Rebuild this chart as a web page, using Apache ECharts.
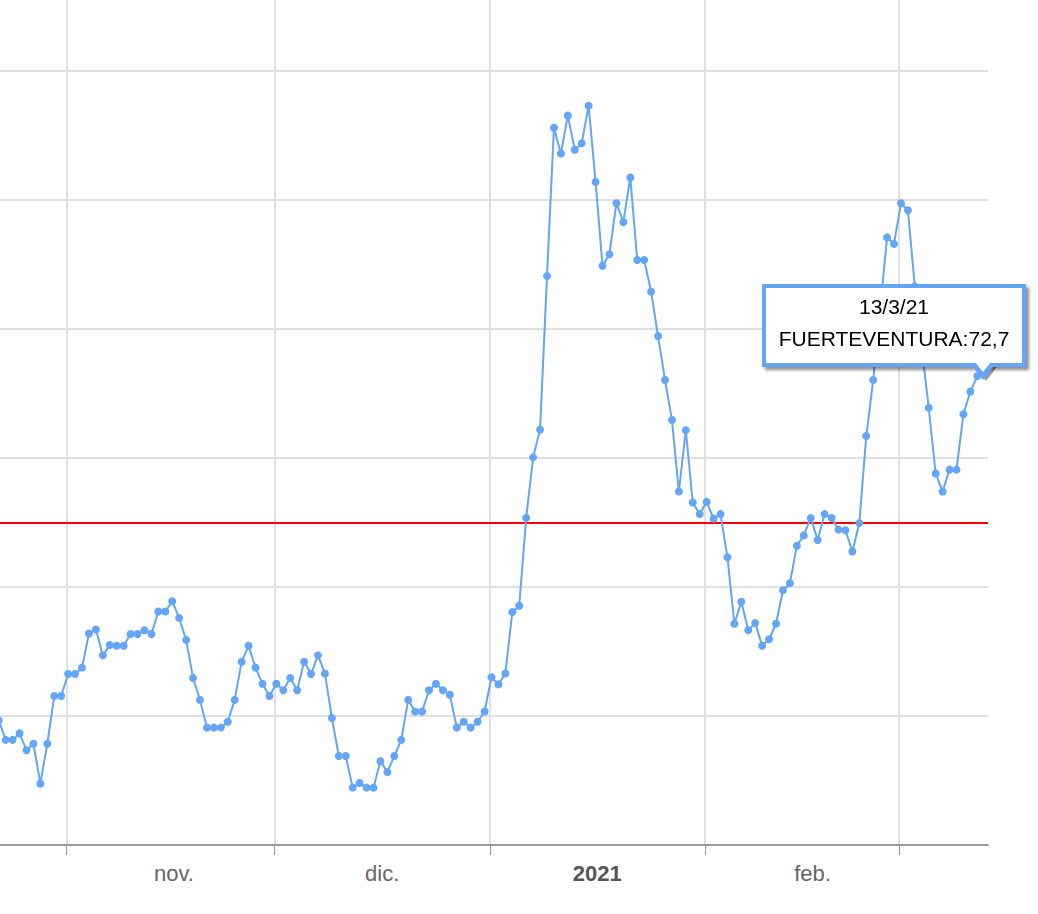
<!DOCTYPE html>
<html>
<head>
<meta charset="utf-8">
<script src="https://cdn.jsdelivr.net/npm/echarts@6/dist/echarts.min.js"></script>
<style>
html,body{margin:0;padding:0;background:#fff;overflow:hidden;width:1038px;height:914px;position:relative;}
#chart{position:absolute;left:-3px;top:-58px;width:1041px;height:972px;}
</style>
</head>
<body>
<div id="chart"></div>
<script>
// ---------------- data ----------------
const seriesName = 'FUERTEVENTURA';
const firstDate = '2020-10-23';   // one value per day from this date
const values = [
  19.3, 16.3, 16.3, 17.3, 14.7, 15.7, 9.5, 15.7, 23.1,
  23.1, 26.5, 26.5, 27.5, 32.8, 33.4, 29.4, 31.0, 30.9, 30.9, 32.7,
  32.7, 33.3, 32.7, 36.2, 36.2, 37.8, 35.2, 31.8, 25.9, 22.5,
  18.2, 18.2, 18.2, 19.1, 22.5, 28.4, 30.9, 27.5, 25.0, 23.1,
  25.0, 24.0, 25.9, 24.0, 28.4, 26.5, 29.4, 26.6, 19.7, 13.8,
  13.8, 8.9, 9.6, 8.9, 8.9, 13.0, 11.3, 13.8, 16.3, 22.5,
  20.7, 20.7, 24.0, 25.0, 24.0, 23.3, 18.2, 19.1, 18.2, 19.1,
  20.7, 26.0, 24.9, 26.6, 36.1, 37.1, 50.7, 60.1, 64.4, 88.2,
  111.2, 107.2, 113.1, 107.8, 108.8, 114.6, 102.8, 89.8, 91.6, 99.5,
  96.6, 103.5, 90.7, 90.7, 85.8, 78.9, 72.1, 65.9, 54.8, 64.3,
  53.1, 51.3, 53.2, 50.6, 51.3, 44.6, 34.3, 37.7, 33.3, 34.4,
  30.9, 31.9, 34.3, 39.5, 40.6, 46.4, 48.0, 50.7, 47.3, 51.3,
  50.7, 48.9, 48.8, 45.5, 49.9, 63.4, 72.1, 83.2, 94.2, 93.2,
  99.5, 98.4, 86.6, 77.0, 67.8, 57.6, 54.8, 58.2, 58.2, 66.8,
  70.3, 72.7
];
const thresholdValue = 50;
const monthStarts = ['2020-11-01', '2020-12-01', '2021-01-01', '2021-02-01', '2021-03-01'];
const monthLabels = ['nov.', 'dic.', '2021', 'feb.'];
const boldLabels = ['2021'];
const axisStart = '2020-10-22';
const axisEndDate = '2021-03-13';
const yMin = 0, yMax = 140, yInterval = 20;

// ---------------- build ----------------
const DAY = 86400000;
const POINT_SHIFT = -18 * 3600000;   // plotting offset of the daily points
const AXIS_END_EXTRA = 19 * 3600000;
const t0 = Date.parse(firstDate + 'T00:00:00Z');
const dates = values.map((v, i) => new Date(t0 + i * DAY));
const points = values.map((v, i) => [dates[i].getTime() + POINT_SHIFT, v]);
const tickValues = monthStarts.map(d => Date.parse(d + 'T00:00:00Z'));
const labelValues = monthLabels.map((l, i) => tickValues[i] + 15.5 * DAY);
const xMin = Date.parse(axisStart + 'T00:00:00Z');
const xMax = Date.parse(axisEndDate + 'T00:00:00Z') + AXIS_END_EXTRA;

function fmtDate(d) {
  return d.getUTCDate() + '/' + (d.getUTCMonth() + 1) + '/' + String(d.getUTCFullYear()).slice(2);
}
function fmtNum(v) { return v.toFixed(1).replace('.', ','); }

const BLUE = '#63a5f7';
const FONT = "'Liberation Sans', Arial, sans-serif";

const chart = echarts.init(document.getElementById('chart'), null, { renderer: 'svg' });
chart.setOption({
  animation: false,
  backgroundColor: '#ffffff',
  grid: { left: 0, right: 50, top: 0, bottom: 69, containLabel: false },
  xAxis: {
    type: 'value',
    min: xMin, max: xMax,
    axisLine: { show: true, lineStyle: { color: '#9a9a9a', width: 2 } },
    axisTick: { show: true, customValues: tickValues, length: 10, lineStyle: { color: '#9a9a9a', width: 1 } },
    splitLine: { show: true, lineStyle: { color: '#e0e0e0', width: 2 } },
    axisLabel: {
      show: true,
      customValues: labelValues,
      margin: 17,
      formatter: function (v) {
        let best = 0, bd = Infinity;
        labelValues.forEach((lv, i) => { const d = Math.abs(lv - v); if (d < bd) { bd = d; best = i; } });
        const lab = monthLabels[best];
        return boldLabels.indexOf(lab) >= 0 ? '{b|' + lab + '}' : '{n|' + lab + '}';
      },
      rich: {
        n: { fontFamily: FONT, fontSize: 22, color: '#666666' },
        b: { fontFamily: FONT, fontSize: 22, fontWeight: 'bold', color: '#555555' }
      }
    }
  },
  yAxis: {
    type: 'value',
    min: yMin, max: yMax, interval: yInterval,
    axisLine: { show: false },
    axisTick: { show: false },
    axisLabel: { show: false },
    splitLine: { show: true, lineStyle: { color: '#e0e0e0', width: 2 } }
  },
  tooltip: {
    trigger: 'item',
    triggerOn: 'none',
    alwaysShowContent: true,
    showDelay: 0,
    hideDelay: 0,
    transitionDuration: 0,
    position: [765, 342],
    backgroundColor: '#ffffff',
    borderColor: BLUE,
    borderWidth: 4,
    borderRadius: 0,
    padding: 0,
    extraCssText: 'box-shadow: 3px 3px 3px rgba(0,0,0,0.45); overflow: visible;',
    formatter: function (p) {
      const d = dates[p.dataIndex];
      return '<div style="position:relative;width:256px;height:75px;box-sizing:border-box;padding-top:3px;' +
        'text-align:center;font-family:' + FONT.replace(/'/g, '') + ';font-size:21px;line-height:32px;color:#000;">' +
        fmtDate(d) + '<br>' + p.seriesName + ':' + fmtNum(p.value[1]) +
        '<div style="position:absolute;left:209px;top:79px;width:0;height:0;border-left:11px solid transparent;border-right:11px solid transparent;border-top:14px solid rgba(0,0,0,0.4);"></div>' +
        '<div style="position:absolute;left:204px;top:75px;width:0;height:0;border-left:13px solid transparent;border-right:13px solid transparent;border-top:17px solid ' + BLUE + ';"></div>' +
        '<div style="position:absolute;left:209px;top:74px;width:0;height:0;border-left:8px solid transparent;border-right:8px solid transparent;border-top:10px solid #fff;"></div>' +
        '</div>';
    }
  },
  series: [
    {
      name: 'umbral',
      type: 'line',
      data: [],
      silent: true,
      markLine: {
        silent: true,
        z: 1,
        symbol: ['none', 'none'],
        label: { show: false },
        lineStyle: { color: '#ff0000', width: 2, type: 'solid' },
        emphasis: { disabled: true },
        data: [{ yAxis: thresholdValue }]
      }
    },
    {
      name: seriesName,
      type: 'line',
      z: 3,
      data: points,
      symbol: 'circle',
      symbolSize: 8,
      showAllSymbol: true,
      lineStyle: { color: BLUE, width: 2 },
      itemStyle: { color: BLUE },
      emphasis: { disabled: true }
    }
  ]
});
chart.dispatchAction({ type: 'showTip', seriesIndex: 1, dataIndex: values.length - 1 });
</script>
</body>
</html>
